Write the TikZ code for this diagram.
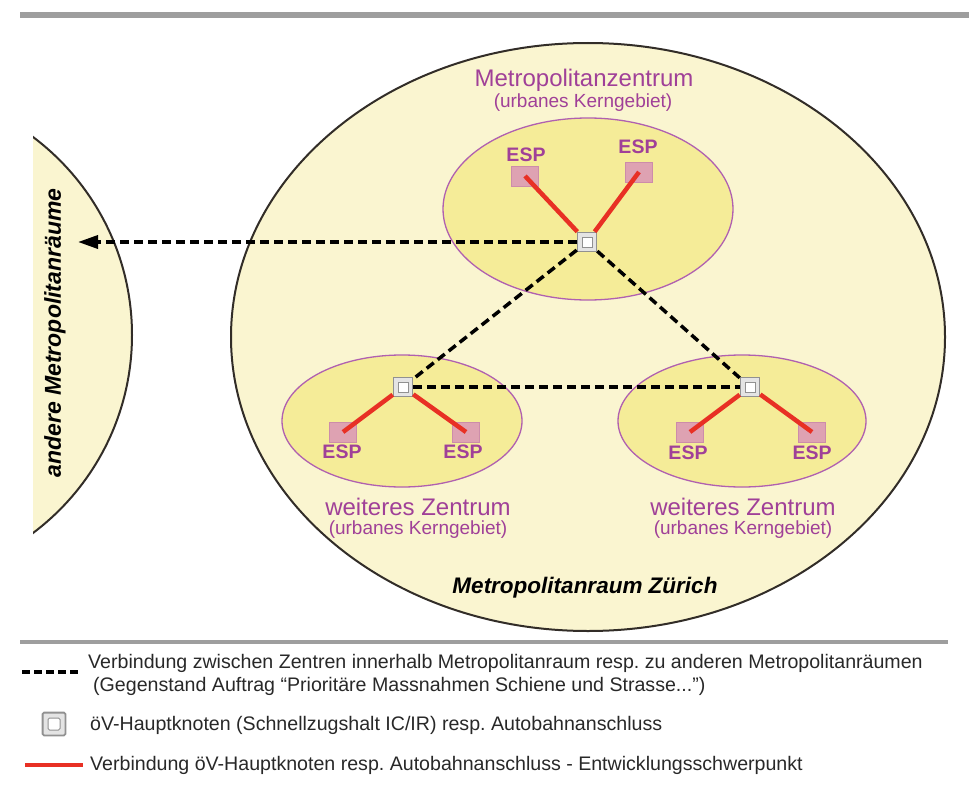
\documentclass[tikz,border=0pt]{standalone}
\usepackage{fontspec}
\setmainfont{Liberation Sans}
\usetikzlibrary{shapes.geometric,arrows.meta,calc}
\frenchspacing

\definecolor{cream}{RGB}{250,245,208}
\definecolor{zonefill}{RGB}{245,236,152}
\definecolor{purpleline}{RGB}{176,96,176}
\definecolor{purpletext}{RGB}{160,64,152}
\definecolor{espfill}{RGB}{222,162,178}
\definecolor{espline}{RGB}{205,140,170}
\definecolor{linkred}{RGB}{232,48,36}
\definecolor{rulegray}{RGB}{158,158,158}
\definecolor{hubfill}{RGB}{228,228,228}
\definecolor{hubline}{RGB}{145,145,145}
\definecolor{rimdark}{RGB}{50,45,40}
\definecolor{legendtext}{RGB}{40,40,40}

\begin{document}
\begin{tikzpicture}[x=1pt,y=-1pt,
  region/.style={ellipse, draw=rimdark, line width=2pt, fill=cream, inner sep=0},
  zone/.style={ellipse, draw=purpleline, line width=1.3pt, fill=zonefill, inner sep=0},
  esp/.style={rectangle, draw=espline, fill=espfill, line width=1pt,
    minimum width=27pt, minimum height=20pt, inner sep=0},
  esplabel/.style={text=purpletext, font=\bfseries\fontsize{19.5}{20}\selectfont, inner sep=0},
  hub/.style={rectangle, draw=hubline, fill=hubfill, line width=1.6pt,
    minimum size=#1*1.9pt, inner sep=0,
    path picture={\draw[hubline, fill=white, line width=1pt]
      ($(path picture bounding box.center)+(-#1/2,-#1/2)$) rectangle ++(#1,#1);}},
  hub/.default=10,
  link/.style={draw=linkred, line width=4.5pt},
  conn/.style={draw=black, line width=3.5pt, dash pattern=on 9pt off 5pt},
  zonetitle/.style={text=purpletext, font=\fontsize{24}{26}\selectfont, inner sep=0},
  zonesub/.style={text=purpletext, font=\fontsize{19}{21}\selectfont, inner sep=0},
  areatitle/.style={text=black, font=\bfseries\itshape\fontsize{23}{25}\selectfont, inner sep=0},
  legend/.style={anchor=west, inner sep=0, text=legendtext, font=\fontsize{19.6}{21}\selectfont}
]
\useasboundingbox (0,0) rectangle (969,800);

% top rule
\coordinate (barL) at (20,15);
\coordinate (barR) at (969,15);
\draw[rulegray, line width=5.5pt] (barL) -- (barR);

% neighbouring metropolitan areas (cut at the left margin)
\begin{scope}
  \clip (33,100) rectangle (300,600);
  \filldraw[fill=cream, draw=rimdark, line width=2pt] (-115.5,335) circle (247.5);
\end{scope}
\node[areatitle, rotate=90] (others) at (55,333) {andere Metropolitanräume};

% metropolitan area Zürich
\node[region, minimum width=714pt, minimum height=588pt] (metro) at (588,337) {};
\node[areatitle, font=\bfseries\itshape\fontsize{22.5}{24}\selectfont] (metrotitle) at (585,588) {Metropolitanraum Zürich};

% centres
\node[zone, minimum width=290pt, minimum height=182pt] (zoneT) at (588,209) {};
\node[zone, minimum width=240pt, minimum height=132pt] (zoneL) at (402,421) {};
\node[zone, minimum width=248pt, minimum height=132pt] (zoneR) at (742,421) {};

\node[zonetitle] (titleT) at (584,80) {Metropolitanzentrum};
\node[zonesub] (subT) at (583,103) {(urbanes Kerngebiet)};
\node[zonetitle] (titleL) at (418,507) {weiteres Zentrum};
\node[zonesub] (subL) at (418,530) {(urbanes Kerngebiet)};
\node[zonetitle] (titleR) at (743,507) {weiteres Zentrum};
\node[zonesub] (subR) at (743,530) {(urbanes Kerngebiet)};

% development focal points
\node[esp] (espT1) at (525,176) {};
\node[esp] (espT2) at (639,172) {};
\node[esp] (espL1) at (343,432) {};
\node[esp] (espL2) at (466,432) {};
\node[esp] (espR1) at (690,432) {};
\node[esp] (espR2) at (812,432) {};
\node[esplabel] (lblT1) at (526,155) {ESP};
\node[esplabel] (lblT2) at (638,147) {ESP};
\node[esplabel] (lblL1) at (342,452) {ESP};
\node[esplabel] (lblL2) at (463,452) {ESP};
\node[esplabel] (lblR1) at (688,453) {ESP};
\node[esplabel] (lblR2) at (812,453) {ESP};

% main nodes
\node[hub] (hubT) at (587,242) {};
\node[hub] (hubL) at (403,387) {};
\node[hub] (hubR) at (750,387) {};

% hub to focal point links
\draw[link] (hubT) -- (espT1.center);
\draw[link] (hubT) -- (espT2.center);
\draw[link] (hubL) -- (espL1.center);
\draw[link] (hubL) -- (espL2.center);
\draw[link] (hubR) -- (espR1.center);
\draw[link] (hubR) -- (espR2.center);

% links between centres
\draw[conn] (hubT) -- (hubL);
\draw[conn] (hubT) -- (hubR);
\draw[conn] (hubL) -- (hubR);
\coordinate (farend) at (78,242);
\draw[conn, -{Triangle[length=20pt,width=13pt]}] (hubT) -- (farend);

% legend
\coordinate (ruleL) at (20,642);
\coordinate (ruleR) at (948,642);
\draw[rulegray, line width=3.5pt] (ruleL) -- (ruleR);

\coordinate (legA1) at (22,672);
\coordinate (legA2) at (80,672);
\draw[conn, dash pattern=on 8pt off 4pt] (legA1) -- (legA2);
\node[legend] (legA) at (88,663) {Verbindung zwischen Zentren innerhalb Metropolitanraum resp. zu anderen Metropolitanräumen};
\node[legend] (legAb) at (93,686) {(Gegenstand Auftrag “Prioritäre Massnahmen Schiene und Strasse...”)};

\node[hub=12, line width=1.8pt, rounded corners=1.5pt] (legBsym) at (54,724) {};
\node[legend] (legB) at (90,725) {öV-Hauptknoten (Schnellzugshalt IC/IR) resp. Autobahnanschluss};

\coordinate (legC1) at (25,765);
\coordinate (legC2) at (83,765);
\draw[link, line width=4pt] (legC1) -- (legC2);
\node[legend] (legC) at (90,765) {Verbindung öV-Hauptknoten resp. Autobahnanschluss - Entwicklungsschwerpunkt};
\end{tikzpicture}
\end{document}
